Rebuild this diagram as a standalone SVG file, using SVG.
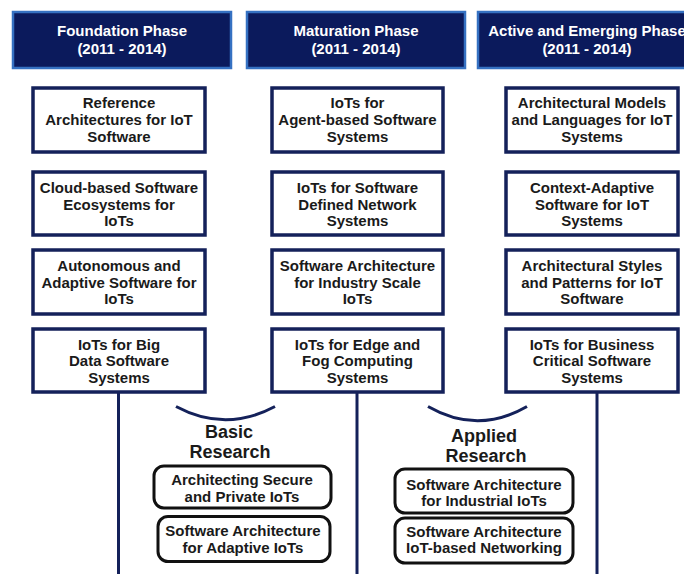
<svg xmlns="http://www.w3.org/2000/svg" width="684" height="574" viewBox="0 0 684 574">
  <style>
    text { font-family: "Liberation Sans", Arial, sans-serif; font-weight: bold; text-anchor: middle; }
    .phase rect { fill: #0b1a5c; stroke: #3571c2; stroke-width: 2.5; }
    .phase text { fill: #ffffff; font-size: 15px; }
    .topic rect { fill: #ffffff; stroke: #14215a; stroke-width: 3.5; }
    .topic text { fill: #1a1a1a; font-size: 15px; }
    .area text { fill: #1a1a1a; font-size: 18px; }
    .area rect { fill: #ffffff; stroke: #111111; stroke-width: 3; }
    .area .item text { font-size: 15px; }
    .link { fill: none; stroke: #14215a; stroke-width: 3; }
  </style>
  <rect width="684" height="574" fill="#ffffff"/>

  <!-- connectors: column trunks and research arcs -->
  <g id="connectors">
    <line class="link" x1="118.5" y1="392" x2="118.5" y2="574"/>
    <line class="link" x1="357" y1="392" x2="357" y2="574"/>
    <line class="link" x1="597" y1="392" x2="597" y2="574"/>
    <path class="link" d="M176 406.5 Q225.5 433 275 406.5"/>
    <path class="link" d="M428 406.5 Q477.5 435 527 406.5"/>
  </g>

  <!-- phase headers -->
  <g id="phase-foundation" class="phase">
    <rect x="13" y="12" width="218" height="56"/>
    <text x="122" y="36">Foundation Phase</text>
    <text x="122" y="54">(2011 - 2014)</text>
  </g>
  <g id="phase-maturation" class="phase">
    <rect x="247" y="12" width="218" height="56"/>
    <text x="356" y="36">Maturation Phase</text>
    <text x="356" y="54">(2011 - 2014)</text>
  </g>
  <g id="phase-active" class="phase">
    <rect x="478" y="12" width="218" height="56"/>
    <text x="587" y="36">Active and Emerging Phase</text>
    <text x="587" y="54">(2011 - 2014)</text>
  </g>

  <!-- column 1 topics -->
  <g id="t-reference-arch" class="topic">
    <rect x="33" y="88" width="172" height="64"/>
    <text x="119" y="108">Reference</text>
    <text x="119" y="125">Architectures for IoT</text>
    <text x="119" y="141.5">Software</text>
  </g>
  <g id="t-cloud-ecosystems" class="topic">
    <rect x="33" y="172" width="172" height="63"/>
    <text x="119" y="193">Cloud-based Software</text>
    <text x="119" y="209.5">Ecosystems for</text>
    <text x="119" y="226">IoTs</text>
  </g>
  <g id="t-autonomous" class="topic">
    <rect x="33" y="250" width="172" height="64"/>
    <text x="119" y="270.5">Autonomous and</text>
    <text x="119" y="287.5">Adaptive Software for</text>
    <text x="119" y="304">IoTs</text>
  </g>
  <g id="t-big-data" class="topic">
    <rect x="33" y="329" width="172" height="63"/>
    <text x="119" y="349.5">IoTs for Big</text>
    <text x="119" y="366">Data Software</text>
    <text x="119" y="382.5">Systems</text>
  </g>

  <!-- column 2 topics -->
  <g id="t-agent-based" class="topic">
    <rect x="272" y="88" width="171" height="64"/>
    <text x="357.5" y="108">IoTs for</text>
    <text x="357.5" y="125">Agent-based Software</text>
    <text x="357.5" y="141.5">Systems</text>
  </g>
  <g id="t-sdn" class="topic">
    <rect x="272" y="172" width="171" height="63"/>
    <text x="357.5" y="193">IoTs for Software</text>
    <text x="357.5" y="209.5">Defined Network</text>
    <text x="357.5" y="226">Systems</text>
  </g>
  <g id="t-industry-scale" class="topic">
    <rect x="272" y="250" width="171" height="64"/>
    <text x="357.5" y="270.5">Software Architecture</text>
    <text x="357.5" y="287.5">for Industry Scale</text>
    <text x="357.5" y="304">IoTs</text>
  </g>
  <g id="t-edge-fog" class="topic">
    <rect x="272" y="329" width="171" height="63"/>
    <text x="357.5" y="349.5">IoTs for Edge and</text>
    <text x="357.5" y="366">Fog Computing</text>
    <text x="357.5" y="382.5">Systems</text>
  </g>

  <!-- column 3 topics -->
  <g id="t-models-languages" class="topic">
    <rect x="506" y="88" width="172" height="64"/>
    <text x="592" y="108">Architectural Models</text>
    <text x="592" y="125">and Languages for IoT</text>
    <text x="592" y="141.5">Systems</text>
  </g>
  <g id="t-context-adaptive" class="topic">
    <rect x="506" y="172" width="172" height="63"/>
    <text x="592" y="193">Context-Adaptive</text>
    <text x="592" y="209.5">Software for IoT</text>
    <text x="592" y="226">Systems</text>
  </g>
  <g id="t-styles-patterns" class="topic">
    <rect x="506" y="250" width="172" height="64"/>
    <text x="592" y="270.5">Architectural Styles</text>
    <text x="592" y="287.5">and Patterns for IoT</text>
    <text x="592" y="304">Software</text>
  </g>
  <g id="t-business-critical" class="topic">
    <rect x="506" y="329" width="172" height="63"/>
    <text x="592" y="349.5">IoTs for Business</text>
    <text x="592" y="366">Critical Software</text>
    <text x="592" y="382.5">Systems</text>
  </g>

  <!-- basic research area -->
  <g id="basic-research" class="area">
    <text x="229" y="438">Basic</text>
    <text x="230" y="458">Research</text>
    <g id="r-secure-private" class="item">
      <rect x="154" y="466" width="177" height="42" rx="10"/>
      <text x="242" y="485">Architecting Secure</text>
      <text x="242" y="501.5">and Private IoTs</text>
    </g>
    <g id="r-adaptive" class="item">
      <rect x="158" y="516.5" width="172" height="45" rx="10"/>
      <text x="243" y="536">Software Architecture</text>
      <text x="243" y="552.5">for Adaptive IoTs</text>
    </g>
  </g>

  <!-- applied research area -->
  <g id="applied-research" class="area">
    <text x="484" y="441.5">Applied</text>
    <text x="486" y="461.5">Research</text>
    <g id="r-industrial" class="item">
      <rect x="395" y="469" width="178" height="44" rx="10"/>
      <text x="484" y="490">Software Architecture</text>
      <text x="484" y="505.5">for Industrial IoTs</text>
    </g>
    <g id="r-networking" class="item">
      <rect x="395" y="518" width="178" height="45" rx="10"/>
      <text x="484" y="537">Software Architecture</text>
      <text x="484" y="553">IoT-based Networking</text>
    </g>
  </g>
</svg>
